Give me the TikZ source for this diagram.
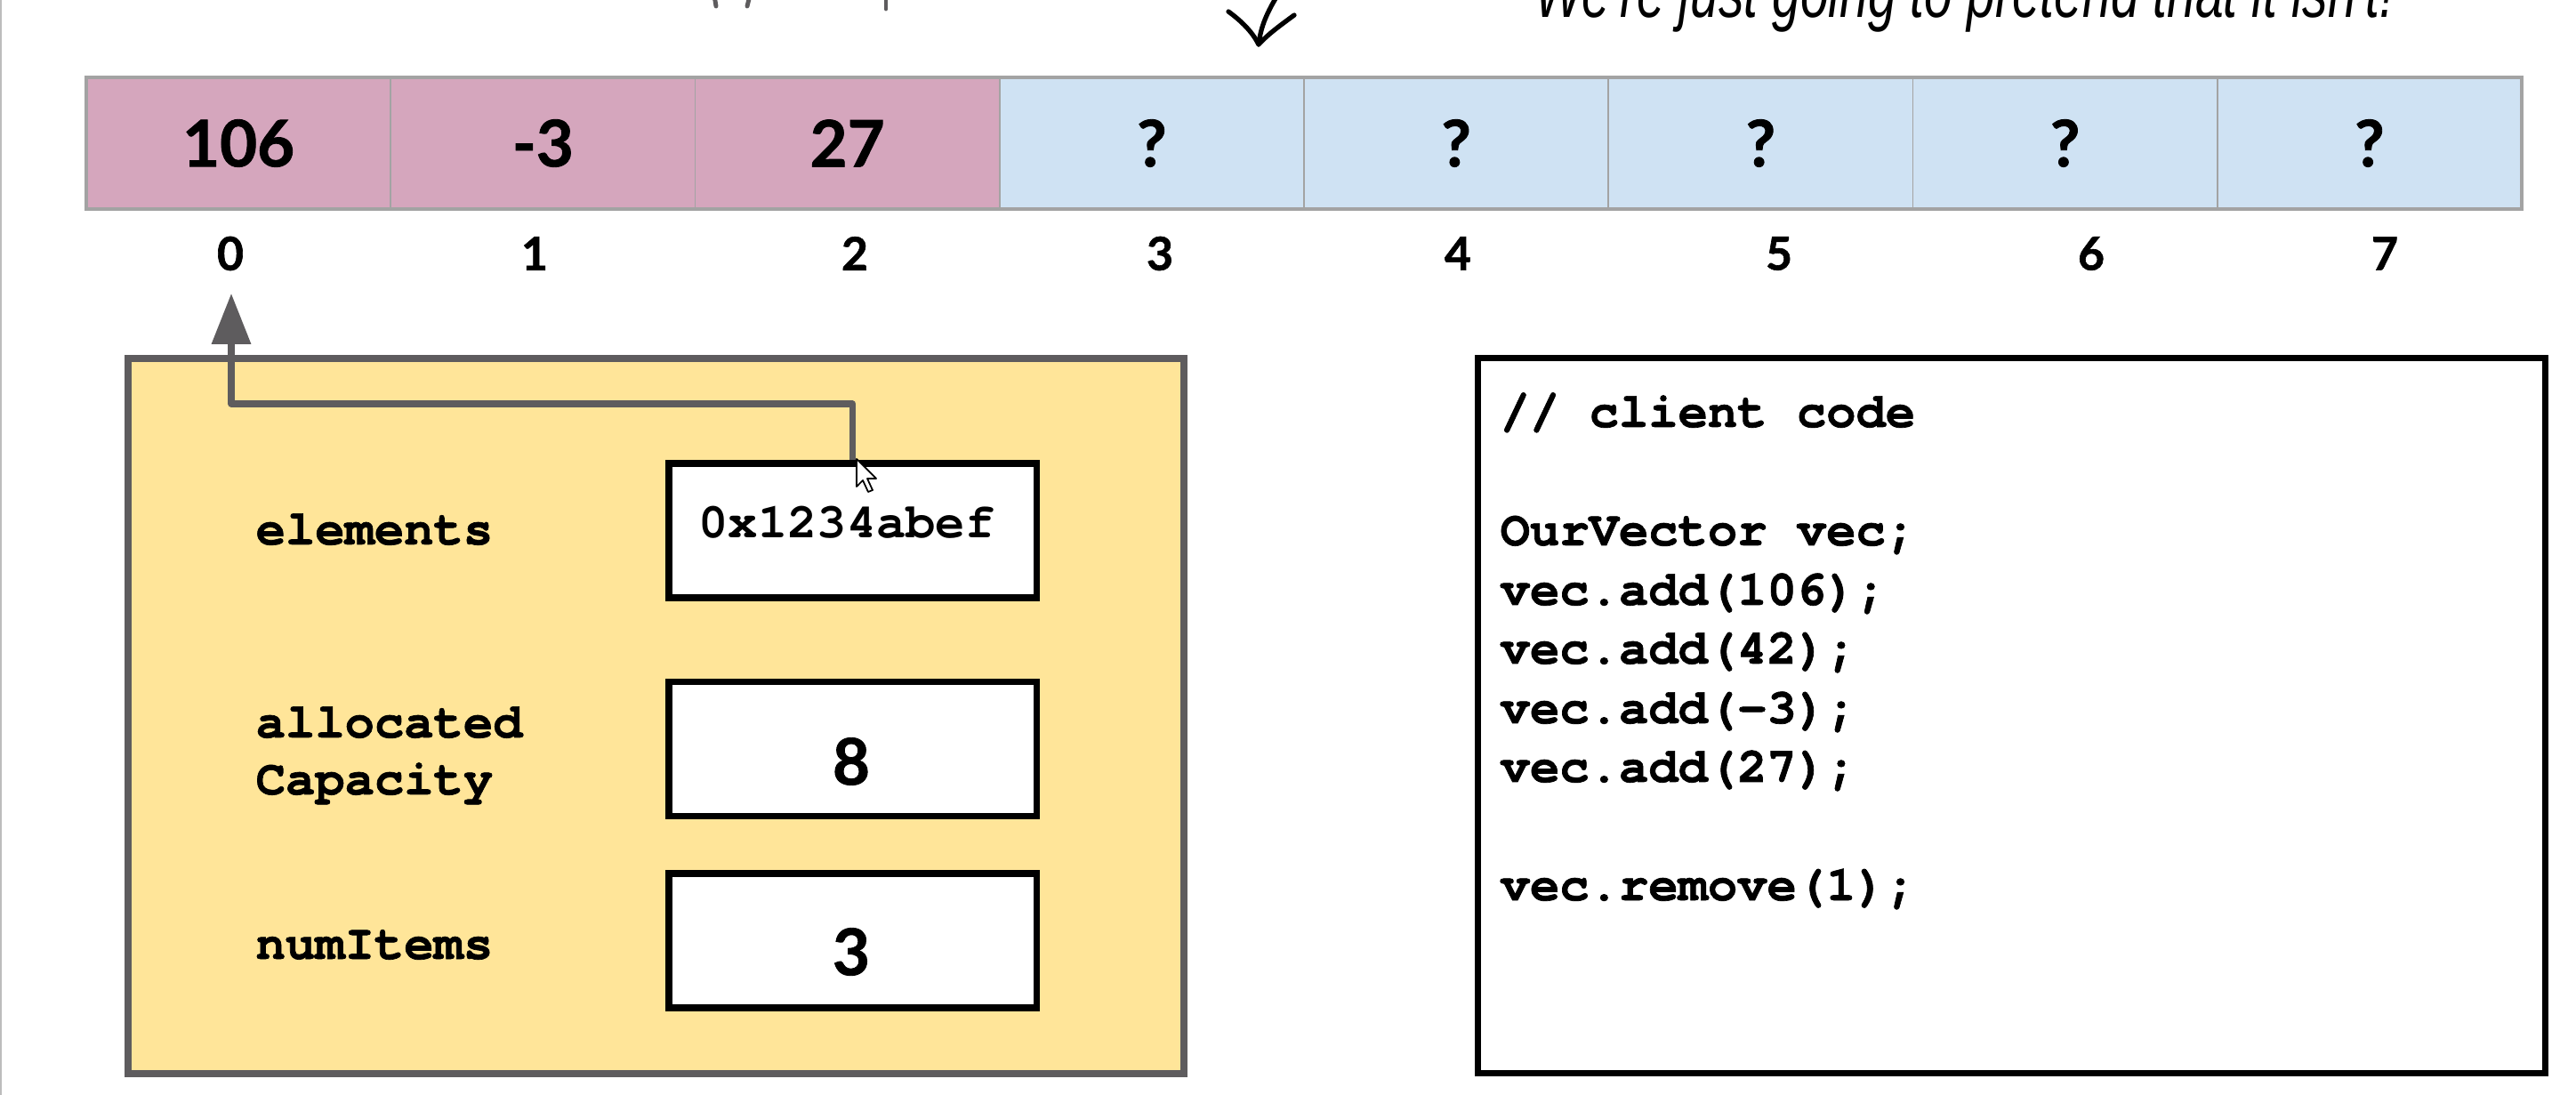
\documentclass[tikz,border=0pt]{standalone}
\usepackage{fontspec}
\usepackage{graphicx}
\usetikzlibrary{arrows.meta}
\newfontfamily\monofont{TeX Gyre Cursor}[BoldFeatures={FakeBold=1.2}]
\newfontfamily\hexfont{TeX Gyre Cursor}
\newfontfamily\numfont{Lato}[BoldFeatures={FakeBold=1.2}]
\newfontfamily\handfont{Liberation Sans}
\definecolor{pinkcell}{HTML}{D5A6BD}
\definecolor{bluecell}{HTML}{CFE2F3}
\definecolor{cellline}{HTML}{A3A3A3}
\definecolor{yellowbox}{HTML}{FFE599}
\definecolor{ptrgray}{HTML}{5E5C5E}
\definecolor{edgegray}{HTML}{BDBDBD}
\begin{document}
\begin{tikzpicture}[x=1cm,y=1cm,
  cellbox/.style={minimum width=3.4225cm, minimum height=1.48cm, inner sep=0pt, outer sep=0pt,
    draw=cellline, line width=0.5pt, anchor=north west,
    font=\numfont\bfseries\fontsize{20.6pt}{24pt}\selectfont},
  pinkbox/.style={cellbox, fill=pinkcell},
  bluebox/.style={cellbox, fill=bluecell},
  idxlabel/.style={inner sep=0pt, font=\numfont\bfseries\fontsize{14.7pt}{17pt}\selectfont},
  valbox/.style={draw=black, line width=2pt, fill=white, minimum width=4.13cm, minimum height=1.51cm, inner sep=0pt},
  fieldlabel/.style={anchor=base west, inner sep=0pt, font=\monofont\bfseries\fontsize{15.8pt}{19pt}\selectfont},
  codeline/.style={anchor=base west, inner sep=0pt, font=\monofont\bfseries\fontsize{15.8pt}{19pt}\selectfont},
  bignum/.style={inner sep=0pt, font=\numfont\bfseries\fontsize{20.6pt}{24pt}\selectfont},
  hexval/.style={anchor=base, inner sep=0pt, font=\hexfont\bfseries\fontsize{15.8pt}{19pt}\selectfont},
  pointer/.style={draw=ptrgray, line width=2pt, line join=round, -{Triangle[length=16.2pt, width=12.2pt]}},
  handstroke/.style={line width=1.5pt, line cap=round, line join=round}
]
\useasboundingbox (0,0) rectangle (28.96,-12.31);
\fill[white] (0,0) rectangle (28.96,-12.31);
\clip (0,0) rectangle (28.96,-12.31);

% left edge line
\draw[edgegray, line width=0.6pt] (0.01,0) -- (0.01,-12.31);

% handwritten fragments at top
\draw[handstroke, ptrgray, line width=1.4pt] (8.03,0.05) -- (8.05,-0.07);
\draw[handstroke, ptrgray, line width=1.4pt] (8.43,0.05) -- (8.40,-0.07);
\draw[handstroke, ptrgray, line width=1.4pt] (9.96,0.05) -- (9.96,-0.10);
\draw[handstroke] (14.36,0.05) .. controls (14.22,-0.18) and (14.17,-0.33) .. (14.15,-0.50);
\draw[handstroke] (13.81,-0.13) .. controls (13.96,-0.24) and (14.08,-0.36) .. (14.15,-0.50)
  .. controls (14.26,-0.38) and (14.40,-0.28) .. (14.55,-0.17);
\node[anchor=base west, inner sep=0pt] (note) at (17.25,-0.20)
  {\resizebox{9.66cm}{\height}{\handfont\itshape\fontsize{23pt}{26pt}\selectfont We're just going to pretend that it isn't!}};

% array cells
\node[pinkbox] (c0) at (0.97,-0.87) {106};
\node[pinkbox] (c1) at (4.3925,-0.87) {-3};
\node[pinkbox] (c2) at (7.815,-0.87) {27};
\node[bluebox] (c3) at (11.2375,-0.87) {?};
\node[bluebox] (c4) at (14.66,-0.87) {?};
\node[bluebox] (c5) at (18.0825,-0.87) {?};
\node[bluebox] (c6) at (21.505,-0.87) {?};
\node[bluebox] (c7) at (24.9275,-0.87) {?};
\draw[cellline, line width=1pt] (c0.north west) rectangle (c7.south east);

% indices
\node[idxlabel] (i0) at (2.59,-2.85) {0};
\node[idxlabel] (i1) at (6.01,-2.85) {1};
\node[idxlabel] (i2) at (9.61,-2.85) {2};
\node[idxlabel] (i3) at (13.04,-2.85) {3};
\node[idxlabel] (i4) at (16.39,-2.85) {4};
\node[idxlabel] (i5) at (20.00,-2.85) {5};
\node[idxlabel] (i6) at (23.51,-2.85) {6};
\node[idxlabel] (i7) at (26.81,-2.85) {7};

% object box
\node[draw=ptrgray, fill=yellowbox, line width=2.3pt, minimum width=11.87cm, minimum height=8.04cm,
  inner sep=0pt, anchor=north west] (obj) at (1.40,-3.99) {};

\node[valbox] (elem) at (9.585,-5.965) {};
\node[valbox] (alloc) at (9.585,-8.42) {};
\node[valbox] (num) at (9.585,-10.575) {};

\node[hexval] (elemval) at (9.52,-6.05) {0x1234abef};
\node[bignum] (allocval) at (9.57,-8.56) {8};
\node[bignum] (numval) at (9.57,-10.70) {3};

\node[fieldlabel] (lelem) at (2.87,-6.12) {elements};
\node[fieldlabel] (lalloc1) at (2.87,-8.29) {allocated};
\node[fieldlabel] (lalloc2) at (2.87,-8.93) {Capacity};
\node[fieldlabel] (lnum) at (2.87,-10.78) {numItems};

% pointer arrow
\coordinate (bendR) at (9.585,-4.54);
\coordinate (bendL) at (2.60,-4.54);
\coordinate (ptip) at (2.60,-3.30);
\draw[pointer] (elem.north) -- (bendR) -- (bendL) -- (ptip);

% mouse cursor
\draw[fill=white, draw=black, line width=0.5pt, line join=round]
  (9.63,-5.16) -- (9.63,-5.47) -- (9.70,-5.40) -- (9.76,-5.53) -- (9.81,-5.51) -- (9.75,-5.38) -- (9.85,-5.38) -- cycle;

% code box
\node[draw=black, line width=2pt, fill=white, minimum width=12.00cm, minimum height=8.04cm,
  inner sep=0pt, anchor=north west] (code) at (16.58,-3.99) {};
\node[codeline] (k1) at (16.86,-4.80) {// client code};
\node[codeline] (k2) at (16.86,-6.13) {OurVector vec;};
\node[codeline] (k3) at (16.86,-6.80) {vec.add(106);};
\node[codeline] (k4) at (16.86,-7.46) {vec.add(42);};
\node[codeline] (k5) at (16.86,-8.13) {vec.add(-3);};
\node[codeline] (k6) at (16.86,-8.79) {vec.add(27);};
\node[codeline] (k7) at (16.86,-10.12) {vec.remove(1);};
\end{tikzpicture}
\end{document}
